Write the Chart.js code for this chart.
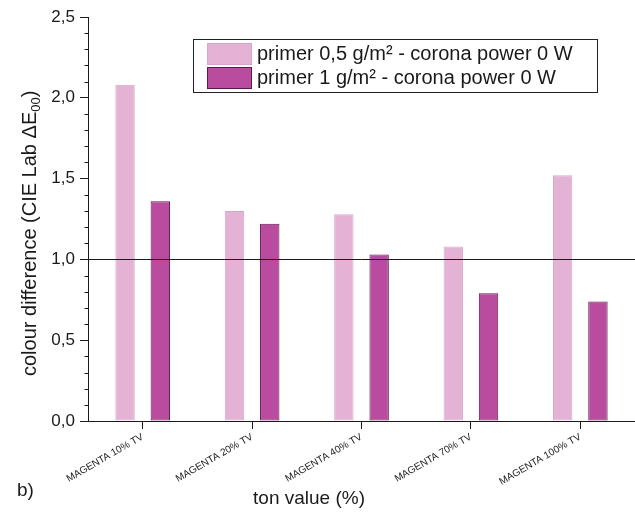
<!DOCTYPE html>
<html>
<head>
<meta charset="utf-8">
<script src="https://cdn.jsdelivr.net/npm/chart.js@4.4.0/dist/chart.umd.min.js"></script>
<style>
  html, body { margin: 0; padding: 0; background: #fff; }
  #wrap { width: 635px; height: 513px; }
</style>
</head>
<body>
<div id="wrap"><canvas id="chart" width="635" height="513"></canvas></div>
<script>
// values
const categories = ["MAGENTA 10% TV", "MAGENTA 20% TV", "MAGENTA 40% TV", "MAGENTA 70% TV", "MAGENTA 100% TV"];
const primerHalf = [2.08, 1.30, 1.28, 1.08, 1.52];
const primerOne  = [1.36, 1.22, 1.03, 0.79, 0.74];
const seriesLabels = ["primer 0,5 g/m\u00B2 - corona power 0 W", "primer 1 g/m\u00B2 - corona power 0 W"];
const refValue = 1.0;

const FONT = '"Liberation Sans", Arial, sans-serif';
const INK = "#1a1a1a";

const fmtComma = v => v.toFixed(1).replace(".", ",");

const decorations = {
    id: "decorations",
    afterDatasetsDraw(chart) {
        const ctx = chart.ctx;
        const area = chart.chartArea;
        const y = chart.scales.y;
        ctx.save();
        ctx.strokeStyle = INK;
        ctx.lineWidth = 1;
        // horizontal reference line at 1,0
        const py = Math.round(y.getPixelForValue(refValue)) + 0.5;
        ctx.beginPath();
        ctx.moveTo(area.left, py);
        ctx.lineTo(area.right, py);
        ctx.stroke();
        // minor ticks every 0,1
        const ax = Math.round(area.left) + 0.5;
        for (let i = 1; i < 25; i++) {
            if (i % 5 === 0) continue;
            const p = Math.round(y.getPixelForValue(i / 10)) + 0.5;
            ctx.beginPath();
            ctx.moveTo(ax - 4, p);
            ctx.lineTo(ax, p);
            ctx.stroke();
        }
        ctx.restore();
    },
    afterDraw(chart) {
        const ctx = chart.ctx;
        ctx.save();

        // legend box
        const lx = 193.5, ly = 39.5, lw = 404, lh = 53;
        ctx.fillStyle = "#fff";
        ctx.fillRect(lx, ly, lw, lh);
        ctx.strokeStyle = "#222";
        ctx.lineWidth = 1;
        ctx.strokeRect(lx, ly, lw, lh);
        chart.data.datasets.forEach((ds, i) => {
            const sy = 43 + i * 24;
            ctx.fillStyle = ds.backgroundColor;
            ctx.fillRect(207, sy, 45, 22);
            ctx.strokeStyle = ds.borderColor;
            ctx.strokeRect(207.5, sy + 0.5, 44, 21);
            ctx.fillStyle = INK;
            ctx.font = "20px " + FONT;
            ctx.textAlign = "left";
            ctx.textBaseline = "middle";
            ctx.fillText(ds.label, 257, sy + 11);
        });

        // y axis title with subscript
        ctx.fillStyle = INK;
        ctx.textBaseline = "alphabetic";
        ctx.textAlign = "left";
        ctx.translate(36, 376);
        ctx.rotate(-Math.PI / 2);
        ctx.font = "20px " + FONT;
        const main = "colour difference (CIE Lab \u0394E";
        ctx.fillText(main, 0, 0);
        let w = ctx.measureText(main).width;
        ctx.font = "13px " + FONT;
        ctx.fillText("00", w, 4);
        w += ctx.measureText("00").width;
        ctx.font = "20px " + FONT;
        ctx.fillText(")", w, 0);
        ctx.setTransform(1, 0, 0, 1, 0, 0);

        // x axis title and panel letter
        ctx.font = "19px " + FONT;
        ctx.textAlign = "center";
        ctx.fillText("ton value (%)", 309, 504);
        ctx.textAlign = "left";
        ctx.fillText("b)", 17, 496);
        ctx.restore();
    }
};

new Chart(document.getElementById("chart"), {
    type: "bar",
    data: {
        labels: categories,
        datasets: [
            {
                label: seriesLabels[0],
                data: primerHalf,
                backgroundColor: "#e3b2d5",
                borderColor: "#d9a6cb",
                borderWidth: 1,
                borderSkipped: false,
            },
            {
                label: seriesLabels[1],
                data: primerOne,
                backgroundColor: "#b94c9e",
                borderColor: "#5e1a50",
                borderWidth: 1,
                borderSkipped: false,
            },
        ],
    },
    options: {
        responsive: false,
        animation: false,
        categoryPercentage: 0.645,
        barPercentage: 0.55,
        layout: { padding: { top: 17, right: 0, left: 0, bottom: 0 } },
        plugins: {
            legend: { display: false },
            tooltip: { enabled: false },
            title: { display: false },
        },
        scales: {
            x: {
                afterFit: s => { s.height = 92; },
                grid: {
                    offset: false,
                    drawOnChartArea: false,
                    tickLength: 8,
                    color: INK,
                },
                border: { display: true, color: INK, width: 1 },
                ticks: {
                    color: INK,
                    font: { family: FONT, size: 10 },
                    maxRotation: 30,
                    minRotation: 30,
                    autoSkip: false,
                    padding: 2,
                },
            },
            y: {
                min: 0,
                max: 2.5,
                afterFit: s => { s.width = 88; },
                grid: {
                    drawOnChartArea: false,
                    tickLength: 8,
                    color: INK,
                },
                border: { display: true, color: INK, width: 1 },
                ticks: {
                    stepSize: 0.5,
                    color: INK,
                    font: { family: FONT, size: 17 },
                    padding: 5,
                    callback: v => fmtComma(v),
                },
            },
        },
    },
    plugins: [decorations],
});
</script>
</body>
</html>
